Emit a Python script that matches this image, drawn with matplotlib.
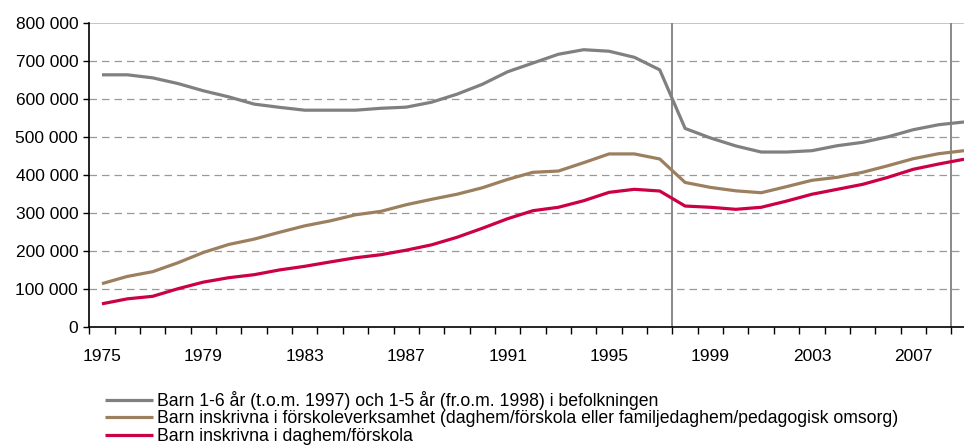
import matplotlib.pyplot as plt
from matplotlib.ticker import FuncFormatter

plt.rcParams['font.family'] = ['Liberation Sans', 'DejaVu Sans']

# Data
years = list(range(1975, 2010))

befolkning = [663000, 663000, 655000, 640000, 621000, 605000, 586000, 577500, 570000, 570000,
              570000, 575000, 578000, 591000, 612000, 638000, 671000, 694000, 717000, 729000,
              725000, 709000, 676000, 522000, 497000, 476000, 460000, 460000, 463500, 476600,
              485500, 500000, 518700, 531800, 539000]

forskoleverksamhet = [114000, 133000, 145400, 169000, 196000, 217000, 231000, 249000, 266000, 279000,
                      295000, 304000, 321500, 335700, 349000, 366000, 388000, 406700, 410000, 432000,
                      455000, 455000, 441700, 380000, 367000, 358000, 353000, 369000, 385600, 393500,
                      406700, 424000, 442500, 455600, 463500]

daghem = [61000, 74000, 80700, 100700, 118000, 129600, 137500, 150000, 159600, 171000,
          182000, 190000, 202000, 216000, 235800, 259500, 284700, 305800, 314700, 332000,
          354000, 362000, 357500, 318000, 314700, 309400, 314700, 331000, 349000, 362000,
          375000, 393500, 414600, 428500, 441000]

namn = ["Barn 1-6 år (t.o.m. 1997) och 1-5 år (fr.o.m. 1998) i befolkningen",
        "Barn inskrivna i förskoleverksamhet (daghem/förskola eller familjedaghem/pedagogisk omsorg)",
        "Barn inskrivna i daghem/förskola"]
farger = ["#808080", "#9b7f5f", "#cc0044"]

fig = plt.figure(figsize=(9.64, 4.46), dpi=100)
ax = fig.add_axes([89.3 / 964, 119 / 446, 1 - 89.3 / 964, 304.3 / 446])

x = list(range(len(years)))
for serie, farg, n in zip([befolkning, forskoleverksamhet, daghem], farger, namn):
    ax.plot(x, serie, color=farg, lw=2.3, label=n, solid_capstyle='butt')

# Vertikala linjer (1997/1998 och 2008/2009)
for v in [22.5, 33.5]:
    ax.axvline(v, color="#808080", lw=1.3, zorder=1)

# Y-axel
ax.set_yticks(range(0, 800001, 100000))
ax.yaxis.set_major_formatter(FuncFormatter(lambda v, p: f"{int(v):,}".replace(",", " ")))
for yv in range(100000, 800000, 100000):
    ax.axhline(yv, color="#999999", lw=0.9, ls=(0, (6, 4)), zorder=0)
ax.axhline(800000, color="#bbbbbb", lw=1.2, zorder=0)

# X-axel
etiketter = [i for i, y in enumerate(years) if (y - 1975) % 4 == 0]
ax.set_xticks(etiketter)
ax.set_xticklabels([str(years[i]) for i in etiketter])
ax.set_xticks([i + 0.5 for i in range(-1, len(years))], minor=True)
ax.tick_params(axis='x', which='major', length=0, pad=16, labelsize=12.5)
ax.tick_params(axis='x', which='minor', length=5, width=1, direction='out')
ax.tick_params(axis='y', length=4, width=1, labelsize=12.5, pad=4)

ax.set_xlim(-0.5, 34.0)
ax.set_ylim(0, 800000)

for s in ['top', 'right']:
    ax.spines[s].set_visible(False)
ax.spines['left'].set_linewidth(1.2)
ax.spines['bottom'].set_linewidth(1.2)

fig.legend(loc='upper left', bbox_to_anchor=(105 / 964, 1 - 391 / 446), frameon=False,
           fontsize=12.7, handlelength=2.7, handletextpad=0.22, borderpad=0, labelspacing=0.02,
           borderaxespad=0)

fig.savefig("out.png", dpi=100)
